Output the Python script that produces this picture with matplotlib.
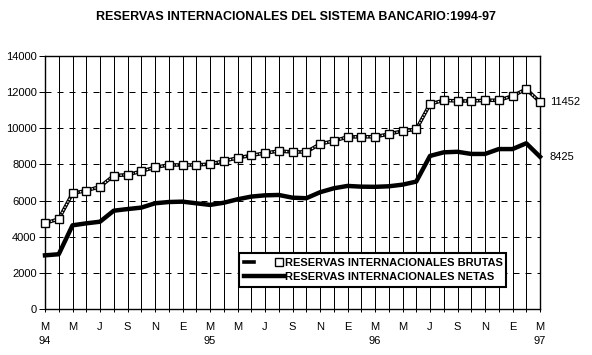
import numpy as np
import matplotlib
matplotlib.use('Agg')
import matplotlib.pyplot as plt
from matplotlib.legend_handler import HandlerTuple

# Datos mensuales: marzo 1994 - marzo 1997
brutas = [4750, 4980, 6400, 6550, 6770, 7380, 7430, 7620, 7840, 7970, 7970, 7970,
          8020, 8190, 8360, 8500, 8630, 8740, 8690, 8690, 9130, 9300, 9520, 9530,
          9530, 9680, 9850, 9940, 11340, 11550, 11510, 11510, 11550, 11550, 11790, 12170,
          11452]
netas = [2970, 3030, 4630, 4740, 4830, 5440, 5530, 5610, 5850, 5920, 5940, 5850,
         5760, 5880, 6070, 6220, 6290, 6310, 6160, 6130, 6460, 6680, 6810, 6770,
         6760, 6790, 6880, 7050, 8470, 8670, 8700, 8580, 8580, 8850, 8850, 9170,
         8425]
meses = ['M\n94', '', 'M', '', 'J', '', 'S', '', 'N', '', 'E', '',
         'M\n95', '', 'M', '', 'J', '', 'S', '', 'N', '', 'E', '',
         'M\n96', '', 'M', '', 'J', '', 'S', '', 'N', '', 'E', '',
         'M\n97']

plt.rcParams['font.family'] = ['Liberation Sans', 'DejaVu Sans']

x = np.arange(len(brutas))

fig = plt.figure(figsize=(5.92, 3.55), dpi=100)
ax = fig.add_axes([45 / 592, 1 - 309 / 355, 495 / 592, 253 / 355])

# rejilla
for v in range(2000, 14000, 2000):
    ax.axhline(v, color='black', lw=0.72, ls=(0, (6, 6)), zorder=1)
for xi in x:
    ax.axvline(xi, color='black', lw=0.72, zorder=1)

# brutas: linea en cadena con cuadrados
l1, = ax.plot(x, brutas, color='black', lw=2.6, zorder=3, clip_on=False)
l2, = ax.plot(x, brutas, color='white', lw=0.9, ls=(0, (1.2, 1.2)), zorder=4, clip_on=False)
l3, = ax.plot(x, brutas, ls='none', marker='s', ms=5.5, mfc='white', mec='black',
              mew=1, zorder=5, clip_on=False)
# netas
l4, = ax.plot(x, netas, color='black', lw=3.2, zorder=3, clip_on=False)

ax.text(36.75, brutas[-1], str(brutas[-1]), fontsize=8, va='center', ha='left')
ax.text(36.7, netas[-1], str(netas[-1]), fontsize=8, va='center', ha='left')

ax.set_xlim(0, 36)
ax.set_ylim(0, 14000)
ax.set_yticks(range(0, 14001, 2000))
ax.set_xticks(x)
ax.set_xticklabels(meses, fontsize=8, linespacing=1.6)
ax.tick_params(axis='y', labelsize=8, length=4, width=0.72, pad=2)
ax.tick_params(axis='x', length=4, width=0.72, pad=7, direction='inout')
for s in ax.spines.values():
    s.set_linewidth(1)

leg = ax.legend([(l1, l2, l3), l4],
                ['RESERVAS INTERNACIONALES BRUTAS', 'RESERVAS INTERNACIONALES NETAS'],
                handler_map={tuple: HandlerTuple(ndivide=None)},
                loc='lower left', bbox_to_anchor=(0.38, 0.066, 0.563, 0.134),
                mode='expand', prop={'weight': 'bold', 'size': 8},
                handlelength=3.6, handletextpad=0.1, borderpad=0.45,
                labelspacing=0.35, fancybox=False, framealpha=1, edgecolor='black')
leg.get_frame().set_linewidth(1.5)
leg.set_zorder(10)

fig.text(0.5, 1 - 17 / 355, 'RESERVAS INTERNACIONALES DEL SISTEMA BANCARIO:1994-97',
         ha='center', va='center', fontsize=9, fontweight='bold',
         family=['Liberation Sans Narrow', 'Liberation Sans', 'DejaVu Sans'])

fig.savefig('out.png', dpi=100)
